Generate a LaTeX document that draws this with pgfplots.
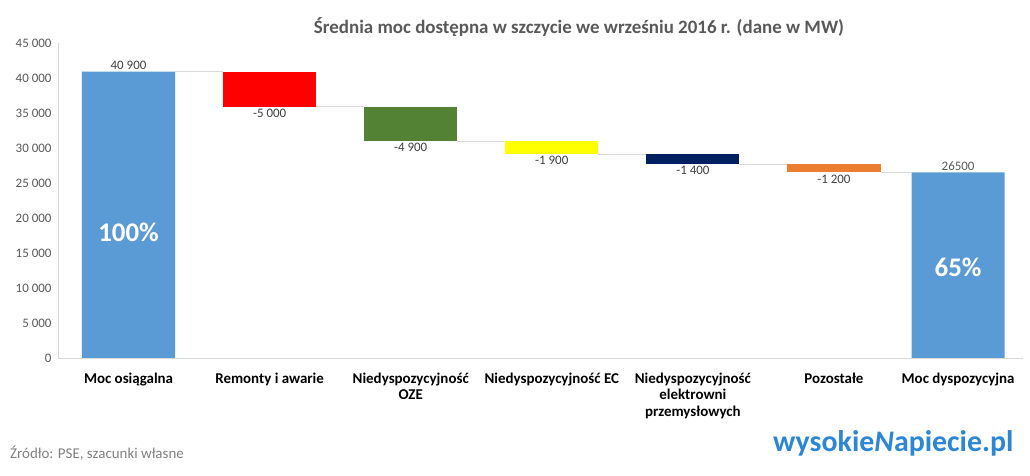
\documentclass[border=0pt]{standalone}
\usepackage{pgfplots}
\pgfplotsset{compat=1.18}
\usepackage{pgfplotstable}
\usepackage{fontspec}
\setmainfont{Carlito}

\definecolor{msblue}{HTML}{5B9BD5}
\definecolor{msred}{HTML}{FF0000}
\definecolor{msgreen}{HTML}{548235}
\definecolor{msyellow}{HTML}{FFFF00}
\definecolor{msnavy}{HTML}{002060}
\definecolor{msorange}{HTML}{ED7D31}
\definecolor{axisgray}{HTML}{D9D9D9}
\definecolor{tickgray}{HTML}{595959}
\definecolor{labelgray}{HTML}{404040}
\definecolor{logoblue}{HTML}{2B86D6}

% waterfall: invisible base + visible step, one column per colour
\pgfplotstableread{
x     base   blue   red  green yellow navy orange
0     0      40900  0    0     0      0    0
1     35900  0      5000 0     0      0    0
2     31000  0      0    4900  0      0    0
3     29100  0      0    0     1900   0    0
4     27700  0      0    0     0      1400 0
5     26500  0      0    0     0      0    1200
5.88  0      26500  0    0     0      0    0
}\wfdata

\pgfplotsset{wfbase/.style={
  at={(58bp,118bp)}, anchor=south west,
  scale only axis, width=965bp, height=315bp,
  xmin=-0.5, xmax=6.34, ymin=0, ymax=45000,
}}

\begin{document}
\begin{tikzpicture}
\useasboundingbox (0,0) rectangle (1030bp,476bp);

\begin{axis}[
  wfbase,
  ybar stacked, bar width=0.66,
  axis lines*=left,
  axis line style={draw=axisgray, line width=0.9bp},
  major tick length=0pt,
  ytick={0,5000,...,45000},
  scaled y ticks=false,
  xtick={0,1,2,3,4,5,5.88},
  xticklabels={Moc osiągalna, Remonty i awarie, Niedyspozycyjność\\OZE,
    Niedyspozycyjność EC, Niedyspozycyjność\\elektrowni\\przemysłowych,
    Pozostałe, Moc dyspozycyjna},
  xticklabel style={align=center, font=\bfseries\fontsize{15}{17}\selectfont,
    text=black, yshift=-11bp},
  yticklabel style={font=\fontsize{13}{15}\selectfont, text=tickgray, xshift=-3bp,
    /pgf/number format/.cd, fixed, 1000 sep={\ }, assume math mode=true},
]
\addplot[draw=none, fill=none] table[x=x, y=base] {\wfdata};
\addplot[draw=none, fill=msblue] table[x=x, y=blue] {\wfdata};
\addplot[draw=none, fill=msred] table[x=x, y=red] {\wfdata};
\addplot[draw=none, fill=msgreen] table[x=x, y=green] {\wfdata};
\addplot[draw=none, fill=msyellow] table[x=x, y=yellow] {\wfdata};
\addplot[draw=none, fill=msnavy] table[x=x, y=navy] {\wfdata};
\addplot[draw=none, fill=msorange] table[x=x, y=orange] {\wfdata};
\end{axis}

% connectors and labels
\begin{axis}[wfbase, hide axis, clip=false, unbounded coords=jump]
\addplot[draw=axisgray, line width=0.9bp, no markers] coordinates {
  (0.33,40900) (0.67,40900) (1,nan)
  (1.33,35900) (1.67,35900) (2,nan)
  (2.33,31000) (2.67,31000) (3,nan)
  (3.33,29100) (3.67,29100) (4,nan)
  (4.33,27700) (4.67,27700) (5,nan)
  (5.33,26500) (5.55,26500)
};
\begin{scope}[every node/.style={font=\fontsize{13}{15}\selectfont, text=labelgray}]
\node[anchor=south, inner sep=2bp] at (axis cs:0,40900) {40 900};
\node[anchor=north, inner sep=2bp] at (axis cs:1,35900) {-5 000};
\node[anchor=north, inner sep=2bp] at (axis cs:2,31000) {-4 900};
\node[anchor=north, inner sep=2bp] at (axis cs:3,29100) {-1 900};
\node[anchor=north, inner sep=2bp] at (axis cs:4,27700) {-1 400};
\node[anchor=north, inner sep=2bp] at (axis cs:5,26500) {-1 200};
\node[anchor=south, inner sep=2bp, text=tickgray] at (axis cs:5.88,26500) {26500};
\end{scope}
\node[text=white, font=\bfseries\fontsize{27}{29}\selectfont] at (axis cs:0,18000) {100\%};
\node[text=white, font=\bfseries\fontsize{27}{29}\selectfont] at (axis cs:5.88,12900) {65\%};
\end{axis}

\node[text=tickgray, font=\bfseries\fontsize{19}{22}\selectfont] at (579bp,449bp)
  {Średnia moc dostępna w szczycie we wrześniu 2016 r. (dane w MW)};
\node[anchor=west, text=gray, font=\fontsize{15}{17}\selectfont, inner sep=0pt] at (10bp,23bp)
  {Źródło: PSE, szacunki własne};
\node[anchor=west, text=logoblue, font=\bfseries\fontsize{30}{32}\selectfont, inner sep=0pt] at (773bp,33bp)
  {wysokie\textit{N}apiecie.pl};
\end{tikzpicture}
\end{document}
